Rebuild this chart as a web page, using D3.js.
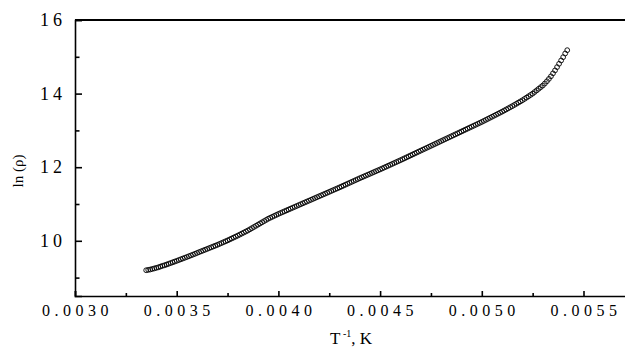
<!DOCTYPE html>
<html>
<head>
<meta charset="utf-8">
<script src="https://cdn.jsdelivr.net/npm/d3@7"></script>
<style>
  body { margin: 0; background: #fff; }
  svg { display: block; }
  text { font-family: "Liberation Serif", "Times New Roman", serif; fill: #000; }
</style>
</head>
<body>
<script>
//Declare consts/global variables
    const width = 625;
    const height = 347;
    const margin = {left: 75, top: 20, bottom: 51};
    const serif = "'Liberation Serif', 'Times New Roman', serif";

//Data - inverse temperature (1/K) and ln(rho)
    const invT = [
        0.00335, 0.00336, 0.00337, 0.00338, 0.00339, 0.00340, 0.00341, 0.00342, 0.00343, 0.00344,
        0.00345, 0.00346, 0.00347, 0.00348, 0.00349, 0.00350, 0.00351, 0.00352, 0.00353, 0.00354,
        0.00355, 0.00356, 0.00357, 0.00358, 0.00359, 0.00360, 0.00361, 0.00362, 0.00363, 0.00364,
        0.00365, 0.00366, 0.00367, 0.00368, 0.00369, 0.00370, 0.00371, 0.00372, 0.00373, 0.00374,
        0.00375, 0.00376, 0.00377, 0.00378, 0.00379, 0.00380, 0.00381, 0.00382, 0.00383, 0.00384,
        0.00385, 0.00386, 0.00387, 0.00388, 0.00389, 0.00390, 0.00391, 0.00392, 0.00393, 0.00394,
        0.00395, 0.00396, 0.00397, 0.00398, 0.00399, 0.00400, 0.00401, 0.00402, 0.00403, 0.00404,
        0.00405, 0.00406, 0.00407, 0.00408, 0.00409, 0.00410, 0.00411, 0.00412, 0.00413, 0.00414,
        0.00415, 0.00416, 0.00417, 0.00418, 0.00419, 0.00420, 0.00421, 0.00422, 0.00423, 0.00424,
        0.00425, 0.00426, 0.00427, 0.00428, 0.00429, 0.00430, 0.00431, 0.00432, 0.00433, 0.00434,
        0.00435, 0.00436, 0.00437, 0.00438, 0.00439, 0.00440, 0.00441, 0.00442, 0.00443, 0.00444,
        0.00445, 0.00446, 0.00447, 0.00448, 0.00449, 0.00450, 0.00451, 0.00452, 0.00453, 0.00454,
        0.00455, 0.00456, 0.00457, 0.00458, 0.00459, 0.00460, 0.00461, 0.00462, 0.00463, 0.00464,
        0.00465, 0.00466, 0.00467, 0.00468, 0.00469, 0.00470, 0.00471, 0.00472, 0.00473, 0.00474,
        0.00475, 0.00476, 0.00477, 0.00478, 0.00479, 0.00480, 0.00481, 0.00482, 0.00483, 0.00484,
        0.00485, 0.00486, 0.00487, 0.00488, 0.00489, 0.00490, 0.00491, 0.00492, 0.00493, 0.00494,
        0.00495, 0.00496, 0.00497, 0.00498, 0.00499, 0.00500, 0.00501, 0.00502, 0.00503, 0.00504,
        0.00505, 0.00506, 0.00507, 0.00508, 0.00509, 0.00510, 0.00511, 0.00512, 0.00513, 0.00514,
        0.00515, 0.00516, 0.00517, 0.00518, 0.00519, 0.00520, 0.00521, 0.00522, 0.00523, 0.00524,
        0.00525, 0.00526, 0.00527, 0.00528, 0.00529, 0.00530, 0.00531, 0.00532, 0.00533, 0.00534,
        0.00535, 0.00536, 0.00537, 0.00538, 0.00539, 0.00540, 0.00541, 0.00542
    ];
    const lnRho = [
        9.200, 9.210, 9.220, 9.235, 9.250, 9.265, 9.280, 9.300, 9.320, 9.335,
        9.355, 9.375, 9.395, 9.415, 9.435, 9.455, 9.476, 9.497, 9.518, 9.539,
        9.560, 9.581, 9.603, 9.625, 9.647, 9.670, 9.692, 9.714, 9.736, 9.758,
        9.780, 9.802, 9.824, 9.846, 9.868, 9.890, 9.914, 9.938, 9.962, 9.986,
        10.010, 10.036, 10.062, 10.088, 10.114, 10.140, 10.168, 10.196, 10.224, 10.252,
        10.280, 10.312, 10.344, 10.376, 10.408, 10.440, 10.472, 10.504, 10.536, 10.568,
        10.600, 10.626, 10.652, 10.678, 10.704, 10.730, 10.754, 10.778, 10.802, 10.826,
        10.850, 10.874, 10.898, 10.922, 10.946, 10.970, 10.994, 11.018, 11.042, 11.066,
        11.090, 11.114, 11.138, 11.162, 11.186, 11.210, 11.234, 11.258, 11.282, 11.306,
        11.330, 11.354, 11.378, 11.402, 11.426, 11.450, 11.475, 11.500, 11.525, 11.550,
        11.575, 11.600, 11.625, 11.650, 11.675, 11.700, 11.724, 11.748, 11.772, 11.796,
        11.820, 11.844, 11.868, 11.892, 11.916, 11.940, 11.965, 11.990, 12.015, 12.040,
        12.065, 12.090, 12.115, 12.140, 12.165, 12.190, 12.216, 12.242, 12.268, 12.294,
        12.320, 12.346, 12.372, 12.398, 12.424, 12.450, 12.476, 12.502, 12.528, 12.554,
        12.580, 12.606, 12.632, 12.658, 12.684, 12.710, 12.736, 12.762, 12.788, 12.814,
        12.840, 12.866, 12.892, 12.918, 12.944, 12.970, 12.996, 13.022, 13.048, 13.074,
        13.100, 13.126, 13.152, 13.178, 13.204, 13.230, 13.258, 13.286, 13.314, 13.342,
        13.370, 13.398, 13.426, 13.454, 13.482, 13.510, 13.540, 13.570, 13.600, 13.630,
        13.660, 13.692, 13.724, 13.756, 13.788, 13.820, 13.856, 13.892, 13.928, 13.964,
        14.000, 14.044, 14.088, 14.132, 14.176, 14.220, 14.275, 14.335, 14.400, 14.470,
        14.550, 14.630, 14.720, 14.810, 14.900, 14.990, 15.090, 15.180
    ];
    const data = invT.map((x, i) => ({x: x, y: lnRho[i]}));

//Tick values
    const xMajor = [0.0030, 0.0035, 0.0040, 0.0045, 0.0050, 0.0055];
    const xMinor = [0.00325, 0.00375, 0.00425, 0.00475, 0.00525, 0.00575];
    const yMajor = [10, 12, 14, 16];
    const yMinor = [9, 11, 13, 15];

//Scales
    const xScale = d3.scaleLinear()
                    .domain([0.0030, 0.0058])
                    .range([margin.left, margin.left + 0.0028 * 203400]);

    const yScale = d3.scaleLinear()
                    .domain([8.5, 16])
                    .range([height - margin.bottom, margin.top]);

//SVG
    const svg = d3.select("body")
                .append("svg")
                .attr("width", width)
                .attr("height", height);

//Points
    svg.append("g")
        .selectAll("circle")
        .data(data)
        .enter()
        .append("circle")
        .attr("cx", d => xScale(d.x))
        .attr("cy", d => yScale(d.y))
        .attr("r", 2.4)
        .attr("fill", "none")
        .attr("stroke", "#000")
        .attr("stroke-width", 0.9);

//Axes
    const bottomAxis = d3.axisBottom(xScale)
                         .tickValues(xMajor)
                         .tickSize(-5)
                         .tickPadding(9)
                         .tickFormat(d3.format(".4f"));

    const bottomMinor = d3.axisBottom(xScale)
                          .tickValues(xMinor)
                          .tickSize(-3)
                          .tickFormat("");

    const leftAxis = d3.axisLeft(yScale)
                       .tickValues(yMajor)
                       .tickSize(-7)
                       .tickPadding(9)
                       .tickFormat(d3.format("d"));

    const leftMinor = d3.axisLeft(yScale)
                        .tickValues(yMinor)
                        .tickSize(-4.5)
                        .tickFormat("");

    const gx = svg.append("g")
        .attr("transform", "translate(0," + (height - margin.bottom) + ")")
        .call(bottomAxis)
        .attr("font-family", serif);
    svg.append("g")
        .attr("transform", "translate(0," + (height - margin.bottom) + ")")
        .call(bottomMinor)
        .select(".domain").remove();

    const gy = svg.append("g")
        .attr("transform", "translate(" + margin.left + ",0)")
        .call(leftAxis)
        .attr("font-family", serif);
    svg.append("g")
        .attr("transform", "translate(" + margin.left + ",0)")
        .call(leftMinor)
        .select(".domain").remove();

    svg.selectAll(".domain, .tick line")
        .attr("stroke", "#000")
        .attr("stroke-width", 1.6);

    gx.selectAll(".tick text")
        .style("font-family", serif)
        .style("font-size", "16px")
        .style("letter-spacing", "4.5px")
        .attr("dx", "2px");

    gy.selectAll(".tick text")
        .style("font-family", serif)
        .style("font-size", "18px")
        .style("letter-spacing", "4px");

//Top frame line
    svg.append("line")
        .attr("x1", xScale(0.0030))
        .attr("x2", xScale(0.0058))
        .attr("y1", yScale(16))
        .attr("y2", yScale(16))
        .attr("stroke", "#000")
        .attr("stroke-width", 1.8);

//Axis titles
    const xt = svg.append("text")
        .attr("x", 351)
        .attr("y", 344)
        .attr("text-anchor", "middle")
        .style("font-size", "17px");
    xt.append("tspan").text("T");
    xt.append("tspan").attr("dy", "-7").style("font-size", "10px").text(" -1");
    xt.append("tspan").attr("dy", "7").text(", K");

    svg.append("text")
        .attr("transform", "translate(23,171) rotate(-90)")
        .attr("text-anchor", "middle")
        .style("font-size", "15px")
        .text("ln (ρ)");
</script>
</body>
</html>
